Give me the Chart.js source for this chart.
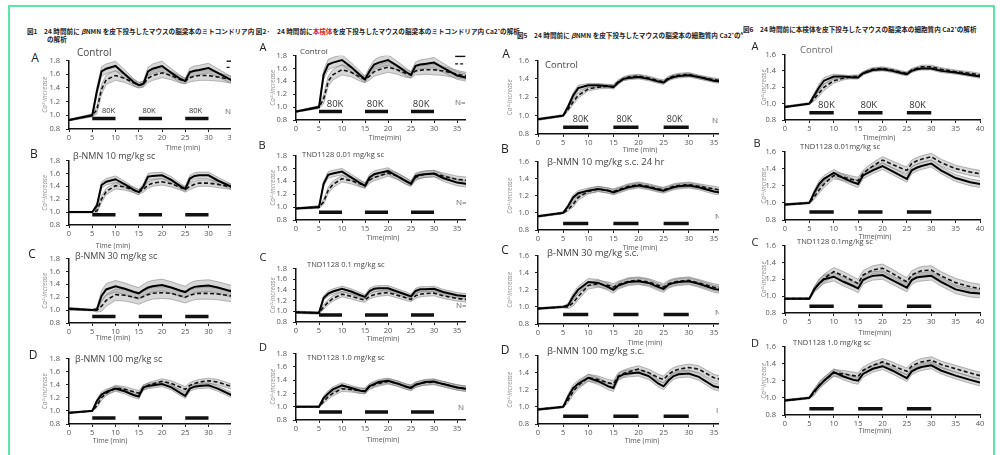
<!DOCTYPE html>
<html><head><meta charset="utf-8">
<script src="https://cdn.jsdelivr.net/npm/chart.js@4.4.0/dist/chart.umd.min.js"></script>
<style>
html,body{margin:0;padding:0;background:#fff;width:1000px;height:455px;overflow:hidden;position:relative;font-family:'Open Sans','Liberation Sans',sans-serif;}
#frame{position:absolute;left:8px;top:5px;width:983px;height:480px;border:2px solid #5be5a6;}
.col{position:absolute;top:0;height:455px;overflow:hidden;}
.col canvas{position:absolute;}
.t{position:absolute;transform:translateY(-50%);white-space:nowrap;line-height:1;}
.tc{position:absolute;transform:translate(-50%,-50%);white-space:nowrap;line-height:1;}
.ttl{position:absolute;transform:translateY(-50%);white-space:nowrap;line-height:1;font-family:'Noto Sans CJK JP',sans-serif;font-weight:bold;font-size:6.6px;color:#222;}
</style></head>
<body>
<div id="frame"></div>
<div class="ttl" style="left:27px;top:31px">図1　24 時間前に <i>β</i>NMN を皮下投与したマウスの脳梁本のミトコンドリア内 図2·</div>
<div class="ttl" style="left:277px;top:31px">24 時間前に<span style="color:#e02020">本検体</span>を皮下投与したマウスの脳梁本のミトコンドリア内 Ca2<sup style="font-size:4px">+</sup>の解析</div>
<div class="ttl" style="left:47px;top:39px">の解析</div>
<div style="position:absolute;left:510px;top:0;width:233px;height:45px;overflow:hidden;"><div class="ttl" style="left:7px;top:35px">図5　24 時間前に <i>β</i>NMN を皮下投与したマウスの脳梁本の細胞質内 Ca2<sup style="font-size:4px">+</sup>の<sup style="font-size:4px">ARAC</sup></div></div>
<div class="ttl" style="left:743px;top:29px">図6　24 時間前に本検体を皮下投与したマウスの脳梁本の細胞質内 Ca2<sup style="font-size:4px">+</sup>の解析</div>
<script>
// ---- shared axes / time points ----
const T = [0,5,6,7,8,10,12,14,15,16,17,18,20,22,24,25,26,27,28,30,32,35,38,40];
const xTickValues = [0,5,10,15,20,25,30,35,40];
const yTickValues = [0.8,1.0,1.2,1.4,1.6,1.8];
const stimStart = [5,15,25];
const stimEnd = [10,20,30];
const stimLabelT = [8.5,17.2,27.2];
const stimLabel = '80K';
// stimulation bar level (Ca2+ units) per panel: fig1 A-D, fig2 A-D, fig5 A-D, fig6 A-D
const stimLevel = [0.955,0.96,0.90,0.89, 0.93,0.92,0.93,0.92, 0.874,0.876,0.91,0.89, 0.888,0.894,0.88,0.874];

// ---- Figure 1 ----
const f1A_solid  = [0.93,1.00,1.35,1.64,1.68,1.72,1.60,1.48,1.44,1.46,1.64,1.68,1.72,1.62,1.53,1.50,1.63,1.65,1.66,1.69,1.62,1.51,1.47,1.45];
const f1A_dashed = [0.93,1.00,1.08,1.38,1.52,1.58,1.54,1.47,1.44,1.45,1.54,1.58,1.62,1.58,1.52,1.50,1.55,1.57,1.58,1.58,1.56,1.52,1.49,1.47];
const f1A_sem    = [0.01,0.02,0.06,0.07,0.07,0.07,0.06,0.05,0.04,0.04,0.06,0.07,0.07,0.06,0.05,0.04,0.06,0.07,0.07,0.07,0.06,0.05,0.05,0.05];
const f1B_solid  = [1.00,1.00,1.10,1.42,1.47,1.51,1.43,1.34,1.31,1.40,1.55,1.56,1.57,1.50,1.40,1.36,1.52,1.56,1.57,1.57,1.49,1.39,1.35,1.33];
const f1B_dashed = [1.00,1.00,1.02,1.20,1.32,1.41,1.39,1.34,1.31,1.35,1.42,1.45,1.47,1.44,1.38,1.35,1.40,1.43,1.45,1.45,1.43,1.39,1.36,1.34];
const f1B_sem    = [0.01,0.01,0.04,0.05,0.05,0.05,0.05,0.04,0.04,0.04,0.05,0.05,0.05,0.05,0.04,0.04,0.05,0.05,0.05,0.05,0.05,0.04,0.04,0.04];
const f1C_solid  = [1.02,1.00,1.01,1.22,1.32,1.37,1.33,1.28,1.26,1.31,1.35,1.37,1.39,1.35,1.30,1.28,1.33,1.36,1.37,1.38,1.35,1.29,1.26,1.24];
const f1C_dashed = [1.02,1.00,1.00,1.06,1.15,1.24,1.23,1.20,1.18,1.21,1.24,1.26,1.27,1.26,1.22,1.20,1.23,1.25,1.26,1.26,1.25,1.22,1.20,1.19];
const f1C_sem    = [0.02,0.01,0.03,0.08,0.09,0.09,0.09,0.09,0.09,0.09,0.09,0.09,0.09,0.09,0.09,0.09,0.09,0.09,0.09,0.09,0.09,0.09,0.09,0.09];
const f1D_solid  = [0.97,1.00,1.15,1.25,1.29,1.34,1.30,1.24,1.22,1.36,1.38,1.39,1.41,1.36,1.27,1.23,1.34,1.37,1.38,1.39,1.34,1.24,1.20,1.18];
const f1D_dashed = [0.97,1.00,1.08,1.20,1.27,1.35,1.33,1.29,1.27,1.35,1.39,1.41,1.45,1.42,1.36,1.33,1.39,1.42,1.44,1.46,1.44,1.37,1.33,1.31];
const f1D_sem    = [0.01,0.01,0.03,0.04,0.04,0.04,0.04,0.04,0.04,0.04,0.04,0.04,0.04,0.04,0.04,0.04,0.04,0.04,0.04,0.04,0.04,0.04,0.04,0.04];
// ---- Figure 2 ----
const f2A_solid  = [0.93,1.00,1.50,1.66,1.69,1.73,1.62,1.49,1.43,1.56,1.66,1.69,1.73,1.64,1.54,1.50,1.64,1.66,1.67,1.69,1.61,1.49,1.44,1.42];
const f2A_dashed = [0.93,1.00,1.12,1.40,1.50,1.58,1.54,1.46,1.43,1.48,1.55,1.58,1.62,1.58,1.52,1.50,1.56,1.57,1.58,1.58,1.56,1.51,1.47,1.45];
const f2A_sem    = [0.01,0.02,0.07,0.08,0.08,0.08,0.07,0.06,0.05,0.06,0.07,0.08,0.08,0.07,0.06,0.05,0.06,0.07,0.07,0.08,0.07,0.06,0.05,0.05];
const f2B_solid  = [0.98,1.00,1.36,1.50,1.52,1.55,1.46,1.37,1.33,1.46,1.51,1.53,1.56,1.48,1.40,1.36,1.48,1.50,1.51,1.52,1.45,1.38,1.35,1.34];
const f2B_dashed = [0.98,1.00,1.08,1.26,1.35,1.44,1.41,1.36,1.34,1.42,1.46,1.48,1.53,1.48,1.40,1.37,1.46,1.49,1.51,1.52,1.48,1.43,1.41,1.40];
const f2B_sem    = [0.01,0.02,0.04,0.05,0.05,0.05,0.05,0.05,0.04,0.05,0.05,0.05,0.05,0.05,0.05,0.04,0.05,0.05,0.05,0.05,0.05,0.05,0.05,0.05];
const f2C_solid  = [0.98,0.97,1.25,1.33,1.37,1.42,1.37,1.30,1.27,1.38,1.42,1.43,1.43,1.37,1.31,1.28,1.38,1.41,1.41,1.42,1.36,1.30,1.27,1.26];
const f2C_dashed = [0.98,0.97,1.08,1.17,1.24,1.32,1.28,1.23,1.21,1.28,1.31,1.33,1.35,1.30,1.25,1.22,1.29,1.32,1.33,1.34,1.29,1.24,1.21,1.20];
const f2C_sem    = [0.02,0.02,0.04,0.05,0.05,0.05,0.05,0.05,0.04,0.05,0.05,0.05,0.05,0.05,0.05,0.04,0.05,0.05,0.05,0.05,0.05,0.05,0.05,0.05];
const f2D_solid  = [1.00,1.00,1.13,1.20,1.26,1.32,1.28,1.24,1.23,1.31,1.34,1.37,1.39,1.35,1.30,1.28,1.33,1.35,1.37,1.38,1.34,1.29,1.26,1.25];
const f2D_dashed = [1.00,1.00,1.08,1.15,1.20,1.27,1.26,1.24,1.24,1.30,1.33,1.35,1.38,1.35,1.30,1.29,1.33,1.35,1.36,1.37,1.34,1.29,1.26,1.25];
const f2D_sem    = [0.01,0.01,0.03,0.04,0.04,0.04,0.04,0.04,0.04,0.04,0.04,0.04,0.04,0.04,0.04,0.04,0.04,0.04,0.04,0.04,0.04,0.04,0.04,0.04];
// ---- Figure 5 ----
const f5A_solid  = [0.96,1.00,1.10,1.22,1.30,1.33,1.33,1.32,1.31,1.36,1.40,1.41,1.42,1.40,1.37,1.36,1.40,1.42,1.43,1.44,1.42,1.38,1.36,1.35];
const f5A_dashed = [0.96,1.00,1.07,1.15,1.22,1.29,1.31,1.32,1.32,1.37,1.40,1.42,1.43,1.41,1.38,1.37,1.41,1.43,1.44,1.45,1.42,1.39,1.37,1.36];
const f5A_sem    = [0.01,0.01,0.02,0.03,0.03,0.02,0.02,0.02,0.02,0.02,0.02,0.02,0.02,0.02,0.02,0.02,0.02,0.02,0.02,0.02,0.02,0.02,0.02,0.02];
const f5B_solid  = [0.96,1.00,1.08,1.18,1.23,1.26,1.28,1.26,1.24,1.26,1.28,1.30,1.32,1.30,1.27,1.26,1.28,1.30,1.31,1.32,1.30,1.25,1.22,1.21];
const f5B_dashed = [0.96,1.00,1.04,1.10,1.18,1.25,1.28,1.26,1.25,1.27,1.29,1.31,1.33,1.31,1.28,1.27,1.29,1.31,1.32,1.33,1.31,1.28,1.25,1.24];
const f5B_sem    = [0.01,0.01,0.02,0.03,0.03,0.03,0.03,0.03,0.03,0.03,0.03,0.03,0.03,0.03,0.03,0.03,0.03,0.03,0.03,0.03,0.03,0.03,0.03,0.03];
const f5C_solid  = [0.98,1.00,1.02,1.12,1.20,1.29,1.28,1.23,1.20,1.25,1.27,1.29,1.30,1.28,1.23,1.21,1.26,1.28,1.29,1.30,1.27,1.21,1.18,1.17];
const f5C_dashed = [0.98,1.00,1.00,1.05,1.12,1.25,1.27,1.25,1.23,1.26,1.28,1.30,1.31,1.29,1.25,1.23,1.27,1.29,1.30,1.31,1.28,1.23,1.20,1.19];
const f5C_sem    = [0.01,0.01,0.02,0.04,0.04,0.04,0.04,0.04,0.04,0.04,0.04,0.04,0.04,0.04,0.04,0.04,0.04,0.04,0.04,0.04,0.04,0.04,0.04,0.04];
const f5D_solid  = [0.97,1.00,1.12,1.22,1.27,1.34,1.30,1.24,1.22,1.35,1.38,1.39,1.40,1.36,1.27,1.24,1.31,1.36,1.38,1.39,1.35,1.24,1.20,1.18];
const f5D_dashed = [0.97,1.00,1.08,1.18,1.25,1.34,1.32,1.28,1.27,1.36,1.39,1.41,1.44,1.40,1.34,1.32,1.38,1.42,1.44,1.46,1.44,1.34,1.30,1.28];
const f5D_sem    = [0.01,0.01,0.03,0.04,0.04,0.04,0.04,0.04,0.04,0.04,0.04,0.04,0.04,0.04,0.04,0.04,0.04,0.04,0.04,0.04,0.04,0.04,0.04,0.04];
// ---- Figure 6 ----
const f6A_solid  = [0.96,1.00,1.10,1.20,1.28,1.33,1.33,1.32,1.32,1.37,1.39,1.41,1.42,1.40,1.37,1.36,1.40,1.42,1.43,1.43,1.40,1.38,1.35,1.33];
const f6A_dashed = [0.96,1.00,1.06,1.13,1.20,1.28,1.31,1.33,1.33,1.37,1.40,1.42,1.43,1.41,1.38,1.37,1.41,1.43,1.45,1.45,1.42,1.39,1.37,1.35];
const f6A_sem    = [0.01,0.01,0.03,0.04,0.04,0.03,0.02,0.02,0.02,0.02,0.02,0.02,0.02,0.02,0.02,0.02,0.02,0.02,0.02,0.02,0.02,0.02,0.02,0.02];
const f6B_solid  = [0.98,1.00,1.12,1.22,1.28,1.35,1.29,1.24,1.22,1.32,1.35,1.38,1.43,1.37,1.31,1.28,1.38,1.41,1.43,1.46,1.38,1.29,1.24,1.22];
const f6B_dashed = [0.98,1.00,1.07,1.15,1.22,1.32,1.30,1.27,1.26,1.34,1.39,1.43,1.50,1.45,1.40,1.38,1.46,1.49,1.51,1.54,1.47,1.40,1.36,1.34];
const f6B_sem    = [0.01,0.01,0.03,0.04,0.04,0.04,0.04,0.04,0.04,0.04,0.04,0.04,0.04,0.04,0.04,0.04,0.04,0.04,0.04,0.04,0.04,0.04,0.04,0.04];
const f6C_solid  = [0.97,0.97,1.08,1.15,1.20,1.23,1.17,1.12,1.09,1.19,1.22,1.24,1.25,1.19,1.13,1.10,1.19,1.22,1.23,1.24,1.17,1.08,1.04,1.03];
const f6C_dashed = [0.97,0.97,1.08,1.15,1.21,1.29,1.24,1.18,1.15,1.25,1.28,1.31,1.33,1.27,1.20,1.17,1.25,1.28,1.30,1.31,1.24,1.16,1.11,1.09];
const f6C_sem    = [0.01,0.01,0.03,0.05,0.05,0.05,0.05,0.05,0.05,0.05,0.05,0.05,0.05,0.05,0.05,0.05,0.05,0.05,0.05,0.05,0.05,0.05,0.05,0.05];
const f6D_solid  = [0.97,1.00,1.08,1.14,1.20,1.30,1.25,1.21,1.20,1.28,1.31,1.34,1.37,1.32,1.26,1.23,1.31,1.34,1.36,1.38,1.32,1.26,1.21,1.18];
const f6D_dashed = [0.97,1.00,1.06,1.15,1.20,1.29,1.28,1.26,1.25,1.32,1.35,1.38,1.42,1.38,1.33,1.31,1.37,1.40,1.42,1.44,1.39,1.34,1.29,1.26];
const f6D_sem    = [0.01,0.01,0.03,0.04,0.04,0.04,0.04,0.04,0.04,0.04,0.04,0.04,0.04,0.04,0.04,0.04,0.04,0.04,0.04,0.04,0.04,0.04,0.04,0.04];

// ---- layout (page pixels) ----
const FONT = "'Open Sans','Liberation Sans',sans-serif";
const cols = [
  {x0:15,  w:216, areaLeft:69,    pxMin:4.66,  yMax:1.8, axisW:29, fs80:7.5, fsLab:9,   fsLet:12, time:'Time (min)'},
  {x0:240, w:226, areaLeft:295.7, pxMin:4.6,   yMax:1.8, axisW:28, fs80:9.5, fsLab:7.5, fsLet:11, time:'Time(min)'},
  {x0:495, w:224, areaLeft:537.5, pxMin:5.03,  yMax:1.6, axisW:33, fs80:9,   fsLab:9.5, fsLet:12, time:'Time (min)'},
  {x0:735, w:265, areaLeft:785,   pxMin:4.875, yMax:1.6, axisW:26, fs80:9.5, fsLab:7.5, fsLet:11, time:'Time(min)'}
];
const panels = [
  {c:0,s:f1A_solid,d:f1A_dashed,e:f1A_sem,yTop:56,   yBot:129,  let:'A',lp:[35,58],  lab:'Control',lpos:[77,52],   tp:[183,147],n:['N',225,111], k80:true, leg:[33.9,35.6,1.79,1.70], labFs:10},
  {c:0,s:f1B_solid,d:f1B_dashed,e:f1B_sem,yTop:156,  yBot:225,  let:'B',lp:[34,154], lab:'β-NMN 10 mg/kg sc',lpos:[73,155], tp:[113,245]},
  {c:0,s:f1C_solid,d:f1C_dashed,e:f1C_sem,yTop:254,  yBot:323,  let:'C',lp:[32,254], lab:'β-NMN 30 mg/kg sc',lpos:[75,255], tp:[113,337]},
  {c:0,s:f1D_solid,d:f1D_dashed,e:f1D_sem,yTop:354,  yBot:424,  let:'D',lp:[33,355], lab:'β-NMN 100 mg/kg sc',lpos:[75,358],tp:[110,440]},
  {c:1,s:f2A_solid,d:f2A_dashed,e:f2A_sem,yTop:51,   yBot:120,  let:'A',lp:[263,46], lab:'Control',lpos:[300,51],  tp:[385,137],n:['N=',455,102], k80:true, leg:[34.6,36.8,1.786,1.67], labFs:8},
  {c:1,s:f2B_solid,d:f2B_dashed,e:f2B_sem,yTop:150.7,yBot:220,  let:'B',lp:[262,144],lab:'TND1128 0.01 mg/kg sc',lpos:[302,155],tp:[383,237],n:['N=',456,202]},
  {c:1,s:f2C_solid,d:f2C_dashed,e:f2C_sem,yTop:264,  yBot:322,  let:'C',lp:[263,256],lab:'TND1128 0.1 mg/kg sc',lpos:[307,265], tp:[383,338],n:['N=',456,305]},
  {c:1,s:f2D_solid,d:f2D_dashed,e:f2D_sem,yTop:349.3,yBot:420.3,let:'D',lp:[263,346],lab:'TND1128  1.0  mg/kg sc',lpos:[307,358],tp:[383,439],n:['N ·',458,407]},
  {c:2,s:f5A_solid,d:f5A_dashed,e:f5A_sem,yTop:56,   yBot:134,  let:'A',lp:[506,54], lab:'Control',lpos:[545,65],  tp:[640,149],n:['N',712,120], k80:true},
  {c:2,s:f5B_solid,d:f5B_dashed,e:f5B_sem,yTop:156.7,yBot:229.3,let:'B',lp:[505,149],lab:'β-NMN 10 mg/kg s.c. 24 hr',lpos:[547,162],tp:[640,247],n:['N',715,216]},
  {c:2,s:f5C_solid,d:f5C_dashed,e:f5C_sem,yTop:251,  yBot:324.3,let:'C',lp:[505,250],lab:'β-NMN 30 mg/kg s.c.',lpos:[547,253],tp:[645,342],n:['N',715,312]},
  {c:2,s:f5D_solid,d:f5D_dashed,e:f5D_sem,yTop:350.7,yBot:423.3,let:'D',lp:[505,350],lab:'β-NMN 100 mg/kg s.c.',lpos:[547,351],tp:[642,440],n:['I',716,410]},
  {c:3,s:f6A_solid,d:f6A_dashed,e:f6A_sem,yTop:50,   yBot:120,  let:'A',lp:[755,45], lab:'Control',lpos:[800,50],  tp:[879,137], k80:true, labColor:'#666', labFs:9.5},
  {c:3,s:f6B_solid,d:f6B_dashed,e:f6B_sem,yTop:146.7,yBot:219.3,let:'B',lp:[757,142],lab:'TND1128 0.01mg/kg sc',lpos:[800,147],tp:[875,236]},
  {c:3,s:f6C_solid,d:f6C_dashed,e:f6C_sem,yTop:240.7,yBot:312.7,let:'C',lp:[755,241],lab:'TND1128 0.1mg/kg sc',lpos:[797,242],tp:[875,332]},
  {c:3,s:f6D_solid,d:f6D_dashed,e:f6D_sem,yTop:342.3,yBot:415,  let:'D',lp:[755,342],lab:'TND1128  1.0 mg/kg sc',lpos:[793,343],tp:[875,430]}
];

const annot = {
  id:'annot',
  afterDatasetsDraw(chart){
    const p = chart.options.plugins.annot; if(!p) return;
    const {ctx} = chart; const xs = chart.scales.x, ys = chart.scales.y;
    ctx.save();
    if(p.k80){
      ctx.font = p.fs80 + 'px ' + FONT; ctx.fillStyle = '#333'; ctx.textAlign='center'; ctx.textBaseline='middle';
      stimLabelT.forEach(t => ctx.fillText(stimLabel, xs.getPixelForValue(t), ys.getPixelForValue(p.lvl) - 7.5));
    }
    if(p.leg){
      const [t0,t1,ya,yb] = p.leg;
      ctx.strokeStyle='#111'; ctx.lineWidth=1.4;
      ctx.beginPath(); ctx.moveTo(xs.getPixelForValue(t0), ys.getPixelForValue(ya)); ctx.lineTo(xs.getPixelForValue(t1), ys.getPixelForValue(ya)); ctx.stroke();
      ctx.setLineDash([3,2]);
      ctx.beginPath(); ctx.moveTo(xs.getPixelForValue(t0), ys.getPixelForValue(yb)); ctx.lineTo(xs.getPixelForValue(t1), ys.getPixelForValue(yb)); ctx.stroke();
    }
    ctx.restore();
  }
};

const colDivs = cols.map(c => {
  const d = document.createElement('div'); d.className='col';
  d.style.left = c.x0+'px'; d.style.width = c.w+'px';
  document.body.appendChild(d); return d;
});
function addText(parent, ox, s, x, y, css, center){
  const d = document.createElement('div'); d.className = center ? 'tc' : 't';
  d.textContent = s; d.style.left = (x-ox)+'px'; d.style.top = y+'px';
  Object.assign(d.style, css); parent.appendChild(d);
}
const PT = 6, PR = 14, XH = 16;
const pts = arr => T.map((t,i)=>({x:t, y:arr[i]}));
const band = (m,e,sign) => T.map((t,i)=>({x:t, y:m[i] + sign*e[i]}));

panels.forEach((p, idx) => {
  const c = cols[p.c], host = colDivs[p.c];
  const W = c.axisW;
  const areaW = Math.round(40*c.pxMin), areaH = Math.round(p.yBot - p.yTop);
  const cv = document.createElement('canvas');
  cv.width = W + areaW + PR; cv.height = PT + areaH + XH;
  cv.style.width = cv.width+'px'; cv.style.height = cv.height+'px';
  cv.style.left = Math.round(c.areaLeft - W - c.x0)+'px';
  cv.style.top = Math.round(p.yTop - PT)+'px';
  host.appendChild(cv);
  const lvl = stimLevel[idx];
  const bandFill = 'rgba(150,150,150,0.38)', bandLine = 'rgba(115,115,115,0.65)';
  const datasets = [
    {data:pts(p.s), borderColor:'#000', borderWidth:2, order:0},
    {data:pts(p.d), borderColor:'#111', borderWidth:1.6, borderDash:[4,2.5], order:0},
    ...stimStart.map((s,i)=>({data:[{x:s,y:lvl},{x:stimEnd[i],y:lvl}], borderColor:'#111', borderWidth:3.5, borderCapStyle:'butt', order:0})),
    {data:band(p.s,p.e,1),  borderColor:bandLine, borderWidth:0.8, backgroundColor:bandFill, fill:'+1', order:1},
    {data:band(p.s,p.e,-1), borderColor:bandLine, borderWidth:0.8, fill:false, order:1},
    {data:band(p.d,p.e,1),  borderColor:bandLine, borderWidth:0.8, backgroundColor:bandFill, fill:'+1', order:2},
    {data:band(p.d,p.e,-1), borderColor:bandLine, borderWidth:0.8, fill:false, order:2}
  ];
  new Chart(cv, {
    type:'line',
    data:{datasets},
    options:{
      responsive:false, animation:false, devicePixelRatio:1,
      layout:{padding:{top:PT, right:PR, left:0, bottom:0}},
      elements:{point:{radius:0}, line:{tension:0}},
      plugins:{legend:{display:false}, tooltip:{enabled:false},
        annot:{k80:!!p.k80, fs80:c.fs80, lvl, leg:p.leg}},
      scales:{
        x:{type:'linear', min:0, max:40,
          afterFit(s){ s.height = XH; },
          afterBuildTicks(s){ s.ticks = xTickValues.map(v=>({value:v})); },
          ticks:{font:{size:7.5, family:FONT}, color:'#555', padding:1, maxRotation:0, autoSkip:false, callback:v=>String(v)},
          grid:{drawOnChartArea:false, tickLength:3, color:'#222', lineWidth:1},
          border:{display:true, color:'#111', width:1.5}},
        y:{type:'linear', min:0.8, max:c.yMax,
          afterFit(s){ s.width = W; },
          afterBuildTicks(s){ s.ticks = yTickValues.filter(v=>v<=c.yMax+1e-9).map(v=>({value:v})); },
          ticks:{font:{size:7.5, family:FONT}, color:'#555', padding:6, autoSkip:false, callback:v=>Number(v).toFixed(1)},
          title:{display:true, text:'Ca²⁺increase', color:'#888', font:{size:6.5, family:FONT, style:'italic'}, padding:{top:1,bottom:0}},
          grid:{drawOnChartArea:false, tickLength:3, color:'#222', lineWidth:1},
          border:{display:true, color:'#111', width:1.5}}
      }
    },
    plugins:[annot]
  });
  addText(host, c.x0, p.let, p.lp[0], p.lp[1], {fontSize:c.fsLet+'px', color:'#222', transform:'translate(-50%,-50%)'});
  addText(host, c.x0, p.lab, p.lpos[0], p.lpos[1], {fontSize:(p.labFs||c.fsLab)+'px', color:p.labColor||'#444'});
  addText(host, c.x0, c.time, p.tp[0], p.tp[1], {fontSize:'7px', color:'#555'}, true);
  if(p.n) addText(host, c.x0, p.n[0], p.n[1], p.n[2], {fontSize:'8px', color:'#666'});
});
</script>
</body></html>
